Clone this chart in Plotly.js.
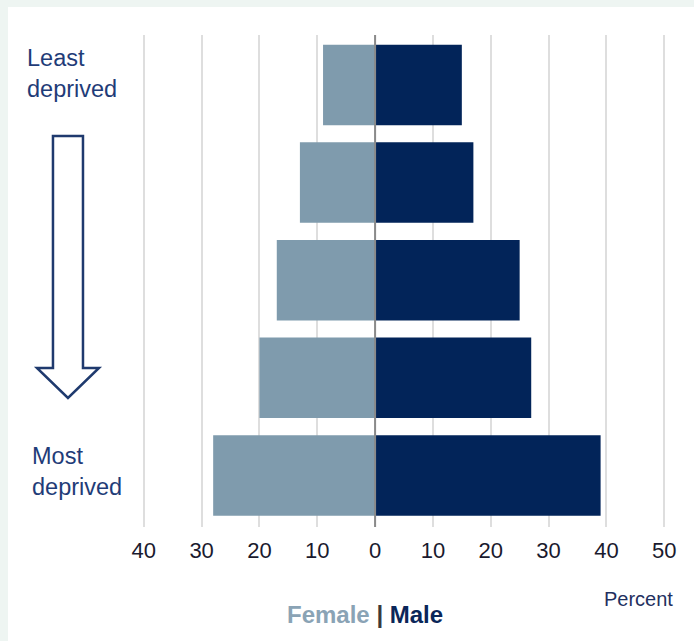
<!DOCTYPE html>
<html>
<head>
<meta charset="utf-8">
<script src="https://cdn.plot.ly/plotly-3.0.1.min.js"></script>
<style>
html,body{margin:0;padding:0;background:#eef5f2;width:694px;height:641px;overflow:hidden;}
#chart{position:absolute;left:8px;top:7px;width:686px;height:634px;background:#fff;}
</style>
</head>
<body>
<div id="chart"></div>
<script>
// Data
const groups = ["Q1 (least deprived)", "Q2", "Q3", "Q4", "Q5 (most deprived)"];
const female = [9, 13, 17, 20, 28];
const male = [15, 17, 25, 27, 39];
const tickVals = [-40, -30, -20, -10, 0, 10, 20, 30, 40, 50];
const tickText = ["40", "30", "20", "10", "0", "10", "20", "30", "40", "50"];

// Layout geometry (page pixels)
const OX = 8, OY = 7;
const M = {l: 130, r: 24.2, t: 28, b: 114};
const W = 686 - M.l - M.r, H = 634 - M.t - M.b;
const px = x => (x - OX - M.l) / W;
const py = y => 1 - (y - OY - M.t) / H;

const femaleNeg = female.map(v => -v);

const traces = [
  {type: 'bar', orientation: 'h', name: 'Female', y: groups, x: femaleNeg,
   marker: {color: '#7f9bad', line: {width: 0}}, hoverinfo: 'skip'},
  {type: 'bar', orientation: 'h', name: 'Male', y: groups, x: male,
   marker: {color: '#022459', line: {width: 0}}, hoverinfo: 'skip'}
];

const arrowPts = [[53,136],[83,136],[83,368],[99,368],[68,398],[37,368],[53,368]];
const arrowPath = 'M' + arrowPts.map(p => px(p[0]).toFixed(5) + ',' + py(p[1]).toFixed(5)).join(' L') + ' Z';

const layout = {
  width: 686, height: 634,
  margin: M,
  paper_bgcolor: '#ffffff', plot_bgcolor: '#ffffff',
  barmode: 'relative', bargap: 0.175,
  showlegend: false,
  font: {family: 'Liberation Sans, Arial, sans-serif', color: '#1a1a2e'},
  xaxis: {
    range: [-41, 51], tickvals: tickVals, ticktext: tickText,
    showgrid: true, gridcolor: '#dedede', gridwidth: 2,
    zeroline: false, showline: false, ticks: '', ticklabelstandoff: 8,
    tickfont: {family: 'Liberation Sans, Arial, sans-serif', size: 22, color: '#1a1a2e'},
    fixedrange: true
  },
  yaxis: {
    type: 'category', range: [4.528, -0.512],
    showticklabels: false, showgrid: false, zeroline: false, showline: false, ticks: '',
    fixedrange: true
  },
  shapes: [
    {type: 'line', xref: 'x', yref: 'paper', x0: 0, x1: 0, y0: 0, y1: 1,
     line: {color: '#8a8a8a', width: 2}, layer: 'above'},
    {type: 'path', xref: 'paper', yref: 'paper', path: arrowPath,
     fillcolor: '#ffffff', line: {color: '#1f3a6e', width: 2.5}, layer: 'above'}
  ],
  annotations: [
    {xref: 'paper', yref: 'paper', x: px(25), y: py(43), xanchor: 'left', yanchor: 'top',
     text: 'Least<br>deprived', showarrow: false, align: 'left',
     font: {family: 'Liberation Sans, Arial, sans-serif', size: 23.5, color: '#1f3c78'}},
    {xref: 'paper', yref: 'paper', x: px(30), y: py(441), xanchor: 'left', yanchor: 'top',
     text: 'Most<br>deprived', showarrow: false, align: 'left',
     font: {family: 'Liberation Sans, Arial, sans-serif', size: 23.5, color: '#1f3c78'}},
    {xref: 'paper', yref: 'paper', x: px(602), y: py(599), xanchor: 'left', yanchor: 'middle',
     text: 'Percent', showarrow: false,
     font: {family: 'Liberation Sans, Arial, sans-serif', size: 20, color: '#1f3060'}},
    {xref: 'paper', yref: 'paper', x: px(365), y: py(614), xanchor: 'center', yanchor: 'middle',
     text: "<b><span style='color:#8aa3b5'>Female</span> <span style='color:#3a3a3a'>|</span> <span style='color:#0a2659'>Male</span></b>",
     showarrow: false,
     font: {family: 'Liberation Sans, Arial, sans-serif', size: 24, color: '#0a2659'}}
  ]
};

Plotly.newPlot('chart', traces, layout, {displayModeBar: false, staticPlot: true});
</script>
</body>
</html>
